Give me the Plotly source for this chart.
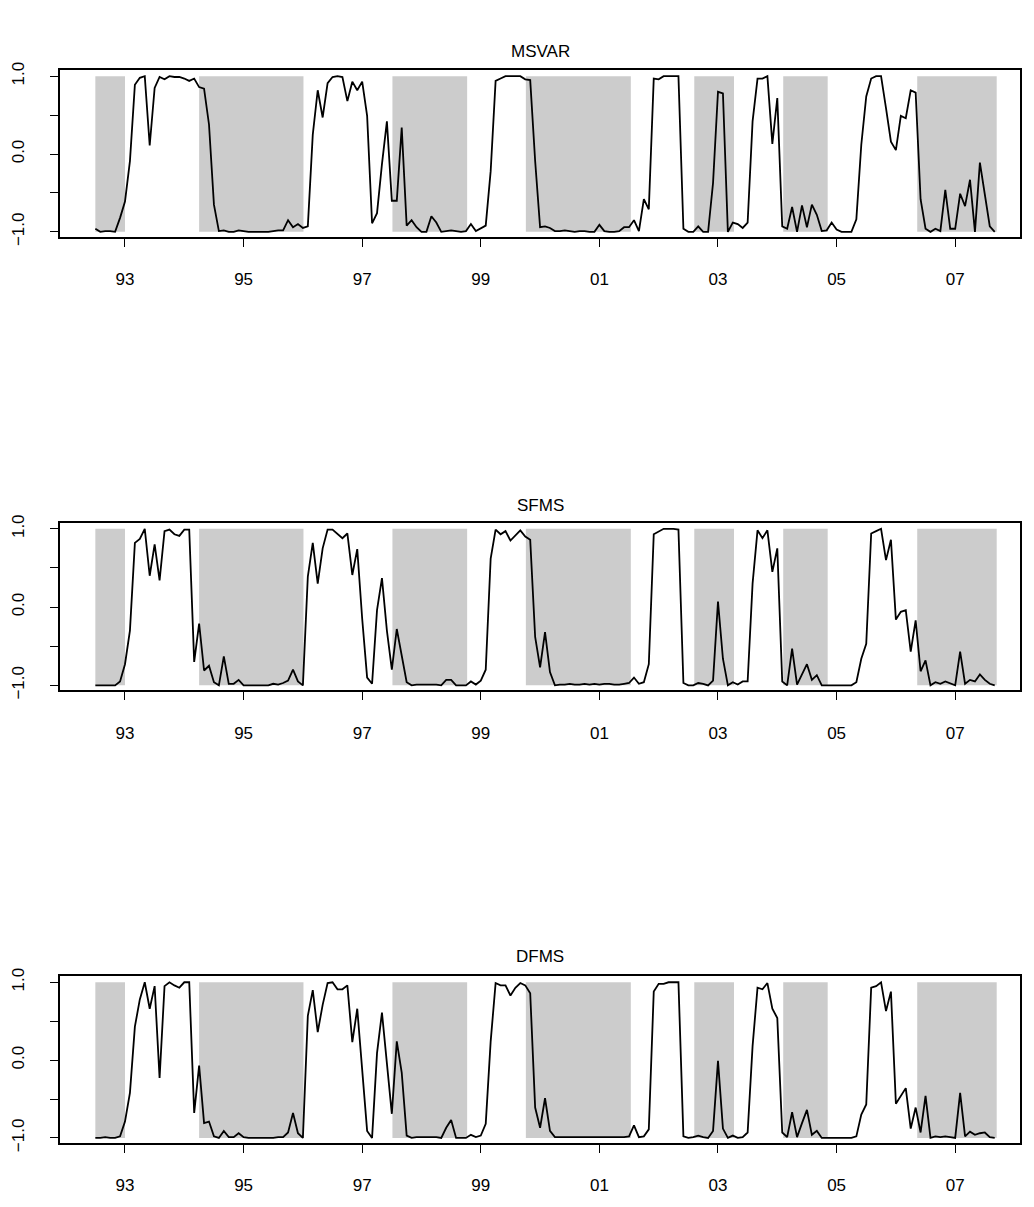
import plotly.graph_objects as go
import numpy as np

# monthly probabilities, 1992:07 - 2007:09
start_year = 1992.5

msvar = [-0.96, -1.0, -0.99, -0.99, -1.0, -0.82, -0.61, -0.09, 0.89, 0.98,
         1.0, 0.11, 0.85, 0.99, 0.96, 1.0, 0.99, 0.99, 0.97, 0.94,
         0.97, 0.86, 0.84, 0.38, -0.65, -0.99, -0.98, -1.0, -1.0, -0.98,
         -0.99, -1.0, -1.0, -1.0, -1.0, -1.0, -0.99, -0.98, -0.98, -0.85,
         -0.94, -0.9, -0.95, -0.93, 0.25, 0.82, 0.47, 0.91, 0.99, 1.0,
         0.99, 0.68, 0.93, 0.82, 0.93, 0.49, -0.89, -0.76, -0.13, 0.42,
         -0.6, -0.6, 0.34, -0.92, -0.85, -0.94, -1.0, -1.0, -0.8, -0.88,
         -1.0, -0.99, -0.98, -0.99, -1.0, -0.99, -0.9, -0.99, -0.95, -0.92,
         -0.22, 0.94, 0.97, 1.0, 1.0, 1.0, 1.0, 0.96, 0.95, -0.09,
         -0.94, -0.93, -0.95, -0.99, -0.99, -0.98, -0.99, -1.0, -0.99, -0.99,
         -1.0, -1.0, -0.91, -0.99, -1.0, -1.0, -0.99, -0.94, -0.94, -0.85,
         -0.99, -0.58, -0.71, 0.97, 0.96, 1.0, 1.0, 1.0, 1.0, -0.96,
         -1.0, -1.0, -0.93, -1.0, -1.0, -0.37, 0.8, 0.78, -1.0, -0.88,
         -0.9, -0.95, -0.88, 0.42, 0.97, 0.97, 1.0, 0.13, 0.72, -0.93,
         -0.96, -0.68, -1.0, -0.66, -0.94, -0.65, -0.78, -0.99, -0.98, -0.88,
         -0.97, -1.0, -1.0, -1.0, -0.84, 0.12, 0.74, 0.97, 1.0, 1.0,
         0.59, 0.16, 0.05, 0.49, 0.46, 0.82, 0.79, -0.58, -0.96, -1.0,
         -0.96, -0.99, -0.46, -0.96, -0.96, -0.51, -0.67, -0.33, -1.0, -0.11,
         -0.52, -0.93, -1.0]

sfms = [-1.0, -1.0, -1.0, -1.0, -1.0, -0.95, -0.73, -0.3, 0.82, 0.87,
        1.0, 0.4, 0.8, 0.34, 0.97, 0.99, 0.93, 0.91, 0.99, 0.99,
        -0.7, -0.21, -0.81, -0.75, -0.96, -1.0, -0.63, -0.98, -0.98, -0.93,
        -1.0, -1.0, -1.0, -1.0, -1.0, -1.0, -0.98, -0.99, -0.97, -0.94,
        -0.8, -0.95, -1.0, 0.39, 0.82, 0.3, 0.75, 0.99, 0.99, 0.94,
        0.88, 0.94, 0.41, 0.74, -0.15, -0.9, -0.98, -0.04, 0.37, -0.3,
        -0.8, -0.28, -0.64, -0.96, -1.0, -0.99, -0.99, -0.99, -0.99, -0.99,
        -1.0, -0.93, -0.93, -1.0, -1.0, -1.0, -0.95, -0.99, -0.94, -0.8,
        0.62, 0.99, 0.93, 0.97, 0.85, 0.91, 0.98, 0.9, 0.86, -0.38,
        -0.77, -0.32, -0.83, -1.0, -0.99, -0.99, -0.98, -0.99, -0.99, -0.98,
        -0.99, -0.98, -0.99, -0.98, -0.98, -0.99, -0.99, -0.98, -0.97, -0.9,
        -0.98, -0.96, -0.73, 0.93, 0.97, 1.0, 1.0, 1.0, 0.99, -0.97,
        -1.0, -1.0, -0.97, -0.98, -1.0, -0.94, 0.07, -0.66, -1.0, -0.96,
        -0.99, -0.95, -0.95, 0.3, 0.98, 0.88, 0.98, 0.45, 0.75, -0.95,
        -1.0, -0.53, -0.99, -0.85, -0.73, -0.93, -0.87, -1.0, -1.0, -1.0,
        -1.0, -1.0, -1.0, -1.0, -0.96, -0.66, -0.47, 0.94, 0.97, 1.0,
        0.6, 0.86, -0.16, -0.06, -0.04, -0.57, -0.17, -0.82, -0.68, -1.0,
        -0.96, -0.98, -0.95, -0.98, -1.0, -0.57, -0.98, -0.93, -0.95, -0.86,
        -0.93, -0.98, -1.0]

dfms = [-1.0, -1.0, -0.99, -1.0, -1.0, -0.98, -0.79, -0.42, 0.43, 0.78,
        1.0, 0.66, 0.95, -0.23, 0.95, 1.0, 0.96, 0.93, 1.0, 1.0,
        -0.68, -0.07, -0.81, -0.79, -0.98, -1.0, -0.91, -0.99, -0.99, -0.94,
        -0.99, -1.0, -1.0, -1.0, -1.0, -1.0, -1.0, -0.99, -0.99, -0.93,
        -0.68, -0.94, -1.0, 0.57, 0.9, 0.36, 0.71, 0.99, 1.0, 0.91,
        0.91, 0.96, 0.23, 0.66, -0.14, -0.91, -1.0, 0.09, 0.61, -0.06,
        -0.69, 0.24, -0.16, -0.97, -1.0, -0.99, -0.99, -0.99, -0.99, -0.99,
        -1.0, -0.87, -0.77, -1.0, -1.0, -1.0, -0.96, -0.99, -0.97, -0.82,
        0.24, 0.99, 0.96, 0.96, 0.83, 0.93, 0.99, 0.96, 0.86, -0.61,
        -0.87, -0.49, -0.91, -0.99, -0.99, -0.99, -0.99, -0.99, -0.99, -0.99,
        -0.99, -0.99, -0.99, -0.99, -0.99, -0.99, -0.99, -0.99, -0.98, -0.84,
        -0.99, -0.98, -0.89, 0.88, 0.98, 0.98, 1.0, 1.0, 1.0, -0.98,
        -1.0, -0.99, -0.97, -0.99, -1.0, -0.91, -0.01, -0.88, -1.0, -0.97,
        -1.0, -0.99, -0.93, 0.18, 0.93, 0.91, 0.99, 0.66, 0.54, -0.93,
        -0.99, -0.67, -0.99, -0.81, -0.64, -0.96, -0.91, -1.0, -1.0, -1.0,
        -1.0, -1.0, -1.0, -1.0, -0.98, -0.7, -0.57, 0.93, 0.95, 1.0,
        0.63, 0.88, -0.56, -0.46, -0.36, -0.88, -0.61, -0.93, -0.46, -1.0,
        -0.98, -0.99, -0.98, -0.99, -1.0, -0.42, -0.98, -0.92, -0.96, -0.94,
        -0.93, -0.99, -1.0]

# shaded periods (decimal years)
shade_start = [1992.5, 1994.25, 1997.51, 1999.76, 2002.6, 2004.1, 2006.36]
shade_end = [1993.0, 1996.01, 1998.77, 2001.53, 2003.27, 2004.85, 2007.7]

titles = ["MSVAR", "SFMS", "DFMS"]
series = [msvar, sfms, dfms]
xtick_vals = [1993, 1995, 1997, 1999, 2001, 2003, 2005, 2007]
xtick_text = ["93", "95", "97", "99", "01", "03", "05", "07"]

H = 1207
boxes = [(55, 224), (514, 684), (974, 1143)]
title_y = [24, 496, 966]

fig = go.Figure()
font = dict(family="Liberation Sans, Arial", size=17, color="black")

for k, (name, vals) in enumerate(zip(titles, series)):
    n = k + 1
    xa = "x" if n == 1 else "x%d" % n
    ya = "y" if n == 1 else "y%d" % n
    x = start_year + np.arange(len(vals)) / 12.0
    fig.add_trace(go.Scatter(x=x, y=vals, mode="lines", xaxis=xa, yaxis=ya,
                             line=dict(color="black", width=1.8),
                             showlegend=False, hoverinfo="skip"))
    for s, e in zip(shade_start, shade_end):
        fig.add_shape(type="rect", xref=xa, yref=ya, x0=s, x1=e, y0=-1, y1=1,
                      fillcolor="#cccccc", line_width=0, layer="below")
    top, bot = boxes[k]
    common = dict(showgrid=False, zeroline=False, showline=True, mirror=True,
                  linecolor="black", linewidth=1.5, ticks="outside", ticklen=8,
                  tickcolor="black", tickfont=font)
    fig.update_layout(**{
        ("xaxis" if n == 1 else "xaxis%d" % n): dict(
            common, domain=[0, 1], range=[1991.904, 2008.093], anchor=ya,
            tickvals=xtick_vals, ticktext=xtick_text, ticklabelstandoff=18),
        ("yaxis" if n == 1 else "yaxis%d" % n): dict(
            common, domain=[1 - bot / H, 1 - top / H], range=[-1.064, 1.077],
            anchor=xa, tickvals=[-1, -0.5, 0, 0.5, 1],
            ticktext=["\u22121.0", "", "0.0", "", "1.0"], tickangle=-90,
            ticklabelstandoff=19),
    })
    fig.add_annotation(text=name, x=0.5, y=1 - title_y[k] / H, xref="paper",
                       yref="paper", showarrow=False, font=font)

fig.update_layout(width=1034, height=1207, plot_bgcolor="white",
                  paper_bgcolor="white",
                  margin=dict(l=52, r=22, t=0, b=0))
fig.write_html("out.html")
